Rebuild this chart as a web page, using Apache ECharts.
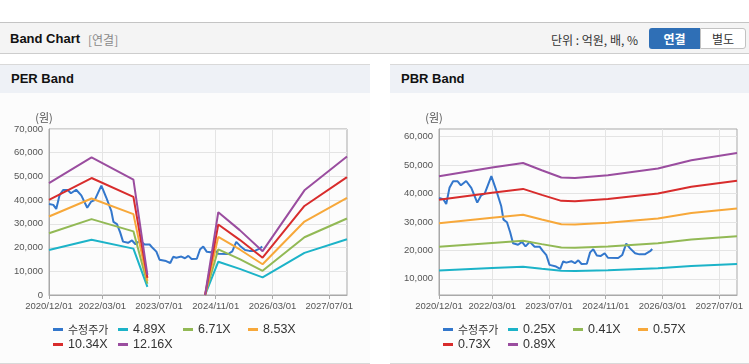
<!DOCTYPE html>
<html><head><meta charset="utf-8">
<script src="https://cdn.jsdelivr.net/npm/echarts@6/dist/echarts.min.js"></script>
<style>
html,body{margin:0;padding:0;width:749px;height:364px;overflow:hidden;background:#fff;font-family:"Liberation Sans","Noto Sans CJK KR",sans-serif;}
.abs{position:absolute;}
#topbar{left:0;top:22px;width:749px;height:30px;background:#f4f4f4;border-top:1px solid #c4c4c4;border-bottom:1px solid #cdcdcd;}
#ttl{left:10px;top:31px;font-size:13px;font-weight:bold;color:#111;}
#ttl2{left:88px;top:31px;font-size:12px;color:#8a8a8a;font-family:"Noto Sans CJK KR",sans-serif;}
#unit{left:551px;top:31px;font-size:12px;color:#333;font-family:"Noto Sans CJK KR",sans-serif;}
#b1{left:649px;top:28px;width:51px;height:21px;background:#2f6fb6;border-radius:3px 0 0 3px;color:#fff;font-weight:bold;font-size:12px;line-height:21px;text-align:center;font-family:"Noto Sans CJK KR",sans-serif;}
#b2{left:700px;top:28px;width:44px;height:19px;background:#fff;border:1px solid #c2c2c2;border-radius:0 3px 3px 0;color:#333;font-size:12px;line-height:19px;text-align:center;font-family:"Noto Sans CJK KR",sans-serif;}
.panel{top:64px;height:298px;background:#fcfcfc;border-top:1px solid #d9d9d9;border-bottom:1px solid #d9d9d9;}
.phead{left:0;top:0;right:0;height:28px;background:#eef1f6;}
.ptitle{top:6px;font-size:13px;font-weight:bold;color:#111;}
#chart{left:0;top:0;width:749px;height:364px;}
</style></head>
<body>
<div id="topbar" class="abs"></div>
<div id="ttl" class="abs">Band Chart</div>
<div id="ttl2" class="abs">[연결]</div>
<div id="unit" class="abs">단위 : 억원, 배, %</div>
<div id="b1" class="abs">연결</div>
<div id="b2" class="abs">별도</div>
<div class="abs panel" style="left:0;width:370px;"><div class="abs phead"></div><div class="abs ptitle" style="left:11px;">PER Band</div></div>
<div class="abs panel" style="left:390px;width:359px;"><div class="abs phead"></div><div class="abs ptitle" style="left:11px;">PBR Band</div></div>
<div id="chart" class="abs"></div>
<script>
// ---- data ----
const xTickLabels = ['2020/12/01','2022/03/01','2023/07/01','2024/11/01','2026/03/01','2027/07/01'];
const xStart = '2020-12-01', xEnd = '2027-12-01';

const priceDates = ['2020-12-01','2021-01-07','2021-02-01','2021-03-01','2021-04-01','2021-05-10','2021-06-07','2021-07-22','2021-09-04','2021-10-25','2021-11-28','2021-12-28','2022-02-23','2022-04-07','2022-05-19','2022-06-07','2022-07-07','2022-08-04','2022-08-28','2022-10-10','2022-11-13','2022-12-13','2023-01-19','2023-03-01','2023-04-13','2023-05-10','2023-06-10','2023-07-07','2023-09-01','2023-10-07','2023-11-01','2023-11-28','2024-01-10','2024-02-10','2024-03-10','2024-04-07','2024-05-22','2024-06-19','2024-07-16','2024-08-16','2024-09-16','2024-10-22','2024-11-19','2025-02-15','2025-03-22','2025-04-25','2025-05-28','2025-07-10','2025-08-16','2025-10-01','2025-11-16','2025-12-04'];
const priceValues = [38400,38000,36300,42000,44300,44300,42900,44400,42000,36800,39400,40000,46100,41000,35500,30800,29900,26300,22500,22000,23000,21400,23000,21300,21300,19800,18300,14900,14300,13500,16100,15700,16200,15500,16500,15200,15300,19300,20400,18200,18000,19000,17400,17300,18400,22400,20700,19000,18600,18600,19700,20500];

const perNames = ['4.89X','6.71X','8.53X','10.34X','12.16X'];
const perDates = ['2020-12-01','2021-12-01','2022-11-25','2023-03-25','2024-01-01','2024-08-01','2024-11-22','2025-05-25','2025-12-07','2026-12-01','2027-12-01'];
const per489  = [18973,23325,19560,3423,null,0,14049,11003,7433,17751,23496];
const per671  = [26035,32007,26840,4697,null,0,19278,15098,10199,24357,32242];
const per853  = [33096,40688,34120,5971,null,0,24507,19193,12966,30964,40987];
const per1034 = [40119,49322,41360,7238,null,0,29707,23265,15717,37534,49684];
const per1216 = [47181,58003,48640,8512,null,0,34936,27360,18483,44141,58429];

const pbrNames = ['0.25X','0.41X','0.57X','0.73X','0.89X'];
const pbrDates = ['2020-12-01','2022-03-01','2022-11-22','2023-05-01','2023-10-16','2024-02-10','2024-11-19','2026-01-22','2026-11-04','2027-12-01'];
const pbr025 = [12948,13803,14255,13538,12818,12778,13045,13705,14523,15248];
const pbr041 = [21234,22636,23378,22202,21021,20955,21394,22476,23817,25006];
const pbr057 = [29520,31470,32501,30866,29224,29133,29743,31247,33111,34764];
const pbr073 = [37807,40303,41625,39530,37427,37310,38091,40019,42406,44523];
const pbr089 = [46093,49137,50748,48194,45630,45488,46440,48790,51700,54281];

const perYTicks = [0,10000,20000,30000,40000,50000,60000,70000];
const pbrYTicks = [10000,20000,30000,40000,50000,60000];

const colors = ['#3377cc','#1cb3c8','#92b955','#f7a83a','#d82c2c','#9a4d9f'];

// monthly categories for the visible axis
const months = [];
for (let k = 0; k <= 84; k++) {
  const y = 2020 + Math.floor((11 + k) / 12), m = ((11 + k) % 12) + 1;
  months.push(y + '/' + String(m).padStart(2, '0') + '/01');
}
const showIdx = (i) => xTickLabels.indexOf(months[i]) >= 0;
const zip = (d, v) => d.map((x, i) => [x, v[i]]);
const fmt = (v) => Number(v).toLocaleString('en-US');

const axisGray = '#a9a9a9', gridGray = '#e4e4e4', labelGray = '#555';
const numFont = 'Liberation Sans';

function catAxis(gi) {
  return {
    type: 'category', gridIndex: gi, data: months, boundaryGap: false,
    axisLine: {lineStyle: {color: axisGray}},
    axisTick: {show: true, interval: (i) => showIdx(i), length: 4, lineStyle: {color: axisGray}},
    axisLabel: {interval: (i) => showIdx(i), color: labelGray, fontSize: 9.5, fontFamily: numFont, margin: 6},
    splitLine: {show: true, interval: (i) => showIdx(i), lineStyle: {color: gridGray}}
  };
}
function timeAxis(gi) {
  return {type: 'time', gridIndex: gi, min: xStart, max: xEnd, show: false};
}
const nameStyle = {fontFamily: 'Noto Sans CJK KR', fontSize: 11, color: labelGray, padding: [0, 10, 0, 0]};

function lineSeries(name, data, color, xi, yi) {
  return {type: 'line', name, data, xAxisIndex: xi, yAxisIndex: yi, showSymbol: false, symbol: 'none',
    connectNulls: false, lineStyle: {width: 2, color}, itemStyle: {color}, animation: false};
}

const series = [];
series.push(lineSeries('수정주가', zip(priceDates, priceValues), colors[0], 1, 0));
[per489, per671, per853, per1034, per1216].forEach((v, i) => series.push(lineSeries(perNames[i], zip(perDates, v), colors[i + 1], 1, 0)));
series.push(lineSeries('수정주가', zip(priceDates, priceValues), colors[0], 3, 1));
[pbr025, pbr041, pbr057, pbr073, pbr089].forEach((v, i) => series.push(lineSeries(pbrNames[i], zip(pbrDates, v), colors[i + 1], 3, 1)));

function legend(left, names) {
  return {
    left, top: 322, width: 270, padding: 0, itemGap: 0, itemWidth: 10, itemHeight: 3, icon: 'rect',
    data: ['수정주가'].concat(names),
    selectedMode: false,
    formatter: (n) => n === '수정주가' ? '{k|' + n + '}' : n,
    textStyle: {fontFamily: numFont, fontSize: 12.5, color: '#333', width: 50, lineHeight: 15,
      rich: {k: {fontFamily: 'Noto Sans CJK KR', fontSize: 11, color: '#333', lineHeight: 15}}}
  };
}

const option = {
  animation: false,
  grid: [
    {left: 49, top: 129, width: 298, height: 166, show: true, borderColor: axisGray, borderWidth: 1, backgroundColor: 'transparent'},
    {left: 439, top: 129, width: 298, height: 166, show: true, borderColor: axisGray, borderWidth: 1, backgroundColor: 'transparent'}
  ],
  xAxis: [catAxis(0), timeAxis(0), catAxis(1), timeAxis(1)],
  yAxis: [
    {type: 'value', gridIndex: 0, min: perYTicks[0], max: perYTicks[perYTicks.length - 1], interval: 10000,
      name: '(원)', nameLocation: 'end', nameGap: 6, nameTextStyle: nameStyle,
      axisLine: {show: true, lineStyle: {color: axisGray}}, axisTick: {show: false},
      axisLabel: {color: labelGray, fontSize: 9.5, fontFamily: numFont, margin: 6, formatter: fmt},
      splitLine: {lineStyle: {color: gridGray}}},
    {type: 'value', gridIndex: 1, min: 4300, max: 62700,
      name: '(원)', nameLocation: 'end', nameGap: 6, nameTextStyle: nameStyle,
      axisLine: {show: true, lineStyle: {color: axisGray}},
      axisTick: {show: false, customValues: pbrYTicks},
      axisLabel: {color: labelGray, fontSize: 9.5, fontFamily: numFont, margin: 6, formatter: fmt, customValues: pbrYTicks},
      splitLine: {lineStyle: {color: gridGray}}}
  ],
  legend: [legend(53, perNames), legend(443, pbrNames)],
  series
};
const chart = echarts.init(document.getElementById('chart'), null, {renderer: 'canvas'});
chart.setOption(option);
</script>
</body></html>
